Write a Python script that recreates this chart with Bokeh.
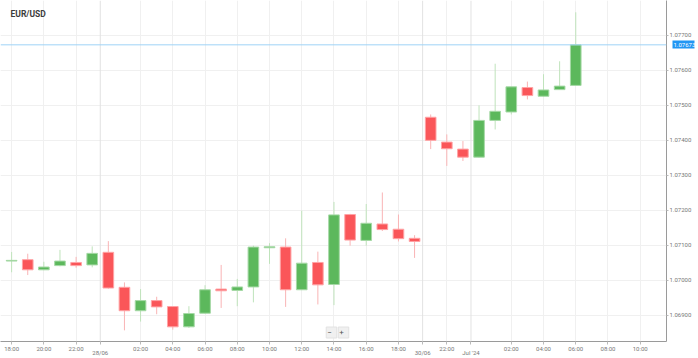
from bokeh.plotting import figure
from bokeh.models import FixedTicker, Span, Label, NumeralTickFormatter, ColumnDataSource, Range1d, LinearAxis
from bokeh.embed import file_html
from bokeh.resources import INLINE

# ---- data (hourly EUR/USD candles, index-based time axis) ----
idx = list(range(36))
opens = [1.07055, 1.07059, 1.07030, 1.07042, 1.07051, 1.07044, 1.07080, 1.06980, 1.06913, 1.06942,
         1.06925, 1.06867, 1.06906, 1.06975, 1.06971, 1.06981, 1.07093, 1.07095, 1.06973, 1.07051,
         1.06988, 1.07188, 1.07114, 1.07161, 1.07146, 1.07120, 1.07466, 1.07395, 1.07375, 1.07352,
         1.07457, 1.07481, 1.07551, 1.07526, 1.07545, 1.07557]
highs = [1.07081, 1.07076, 1.07053, 1.07087, 1.07067, 1.07097, 1.07112, 1.06994, 1.06975, 1.06953,
         1.06926, 1.06926, 1.06986, 1.07044, 1.07004, 1.07099, 1.07106, 1.07120, 1.07199, 1.07082,
         1.07224, 1.07190, 1.07218, 1.07251, 1.07188, 1.07129, 1.07474, 1.07417, 1.07398, 1.07500,
         1.07619, 1.07553, 1.07568, 1.07589, 1.07626, 1.07766]
lows = [1.07023, 1.07015, 1.07029, 1.07040, 1.07036, 1.07037, 1.06976, 1.06857, 1.06882, 1.06903,
        1.06859, 1.06864, 1.06905, 1.06921, 1.06926, 1.06937, 1.07047, 1.06924, 1.06972, 1.06931,
        1.06929, 1.07099, 1.07099, 1.07141, 1.07111, 1.07064, 1.07375, 1.07327, 1.07341, 1.07351,
        1.07431, 1.07474, 1.07517, 1.07525, 1.07544, 1.07556]
closes = [1.07057, 1.07030, 1.07038, 1.07055, 1.07042, 1.07077, 1.06978, 1.06913, 1.06942, 1.06924,
          1.06867, 1.06905, 1.06973, 1.06970, 1.06981, 1.07095, 1.07096, 1.06973, 1.07049, 1.06987,
          1.07187, 1.07115, 1.07163, 1.07145, 1.07119, 1.07111, 1.07400, 1.07376, 1.07352, 1.07457,
          1.07483, 1.07553, 1.07528, 1.07544, 1.07555, 1.07673]

hour_ticks = [0, 2, 4, 8, 10, 12, 14, 16, 18, 20, 22, 24, 27, 31, 33, 35, 37, 39]
hour_labels = ["18:00", "20:00", "22:00", "02:00", "04:00", "06:00", "08:00", "10:00", "12:00",
               "14:00", "16:00", "18:00", "22:00", "02:00", "04:00", "06:00", "08:00", "10:00"]
day_ticks = [5.5, 25.5, 28.5]
day_labels = ["28/06", "30/06", "Jul '24"]
price_ticks = [1.069, 1.070, 1.071, 1.072, 1.073, 1.074, 1.075, 1.076, 1.077]
title_text = "EUR/USD"
last_price = closes[-1]

FONT = "Roboto"
UP_FILL, UP_LINE, UP_WICK = "#5cb85c", "#a6d9a6", "#bfe3bb"
DN_FILL, DN_LINE, DN_WICK = "#fa5659", "#ffa3a5", "#f9b4b5"

inc = [c >= o for o, c in zip(opens, closes)]
src = ColumnDataSource(dict(
    x=idx, o=opens, h=highs, l=lows, c=closes,
    top=[max(o, c) for o, c in zip(opens, closes)],
    bot=[min(o, c) for o, c in zip(opens, closes)],
    fill=[UP_FILL if u else DN_FILL for u in inc],
    line=[UP_LINE if u else DN_LINE for u in inc],
    wick=[UP_WICK if u else DN_WICK for u in inc],
))

p = figure(width=698, height=358, output_backend="svg", toolbar_location=None,
           y_axis_location="right",
           x_range=Range1d(-0.69, 40.63), y_range=Range1d(1.068251, 1.077997),
           min_border_left=0, min_border_top=0, min_border_right=24, min_border_bottom=16)
p.outline_line_color = None
p.background_fill_color = "white"
p.border_fill_color = "white"

# grids
p.xgrid.ticker = FixedTicker(ticks=hour_ticks)
p.xgrid.grid_line_color = "#f0f0f0"
p.ygrid.ticker = FixedTicker(ticks=price_ticks)
p.ygrid.grid_line_color = "#f0f0f0"
for d in day_ticks:
    p.add_layout(Span(location=d, dimension="height", line_color="#e2e2e2", line_width=1))

def style_text(ax, size="6px", color="#777777"):
    ax.major_label_text_font = FONT
    ax.major_label_text_font_size = size
    ax.major_label_text_color = color
    ax.minor_tick_line_color = None

# hour axis (ticks also at day boundaries, unlabeled)
xa = p.xaxis[0]
xa.ticker = FixedTicker(ticks=hour_ticks + day_ticks)
ov = {t: s for t, s in zip(hour_ticks, hour_labels)}
ov.update({d: "" for d in day_ticks})
xa.major_label_overrides = ov
xa.axis_line_color = "#9a9a9a"
xa.major_tick_line_color = "#bbbbbb"
xa.major_tick_out = 3
xa.major_tick_in = 0
xa.major_label_standoff = 0
style_text(xa)

# day axis (second row of labels, tucked under the hour row)
da = LinearAxis(ticker=FixedTicker(ticks=day_ticks),
                major_label_overrides={d: s for d, s in zip(day_ticks, day_labels)})
da.axis_line_color = None
da.major_tick_line_color = None
da.major_tick_out = 0
da.major_tick_in = 0
da.major_label_standoff = -6
style_text(da)
p.add_layout(da, "below")

# price axis
ya = p.yaxis[0]
ya.ticker = FixedTicker(ticks=price_ticks)
ya.formatter = NumeralTickFormatter(format="0.00000")
ya.axis_line_color = "#9a9a9a"
ya.major_tick_line_color = "#bbbbbb"
ya.major_tick_out = 2
ya.major_tick_in = 0
ya.major_label_standoff = 1
style_text(ya)

# last-price tag: an extra right axis with one tick drawn as a blue box
pa = LinearAxis(ticker=FixedTicker(ticks=[last_price]),
                formatter=NumeralTickFormatter(format="0.00000"))
pa.axis_line_color = None
pa.major_tick_line_color = "#2196f3"
pa.major_tick_line_width = 8
pa.major_tick_line_cap = "butt"
pa.major_tick_in = 22
pa.major_tick_out = 0
pa.major_label_standoff = -21
style_text(pa, color="white")
p.add_layout(pa, "right")

# candles
p.segment(x0="x", x1="x", y0="l", y1="h", source=src, line_color="wick", line_width=1)
p.vbar(x="x", width=0.66, top="top", bottom="bot", source=src,
       fill_color="fill", line_color="line", line_width=1)

# last price line
p.add_layout(Span(location=last_price, dimension="width", line_color="#9fd3f7", line_width=1))

# title
p.add_layout(Label(x=10, y=333, x_units="screen", y_units="screen", text=title_text,
                   text_font=FONT, text_font_size="8.5px", text_font_style="bold",
                   text_color="#3c3c3c", text_baseline="top"))

# zoom buttons
extra = {}
if "padding" in Label.properties():
    extra["padding"] = 1
if "border_line_color" in Label.properties():
    extra["border_line_color"] = "#e2e2e2"
for cx, s in [(331, " \u2212 "), (343, " + ")]:
    p.add_layout(Label(x=cx, y=9, x_units="screen", y_units="screen", text=s,
                       text_font=FONT, text_font_size="8px", text_color="#555555",
                       text_align="center", text_baseline="middle",
                       background_fill_color="#f0f0f0", **extra))

open("out.html", "w").write(file_html(p, INLINE))
